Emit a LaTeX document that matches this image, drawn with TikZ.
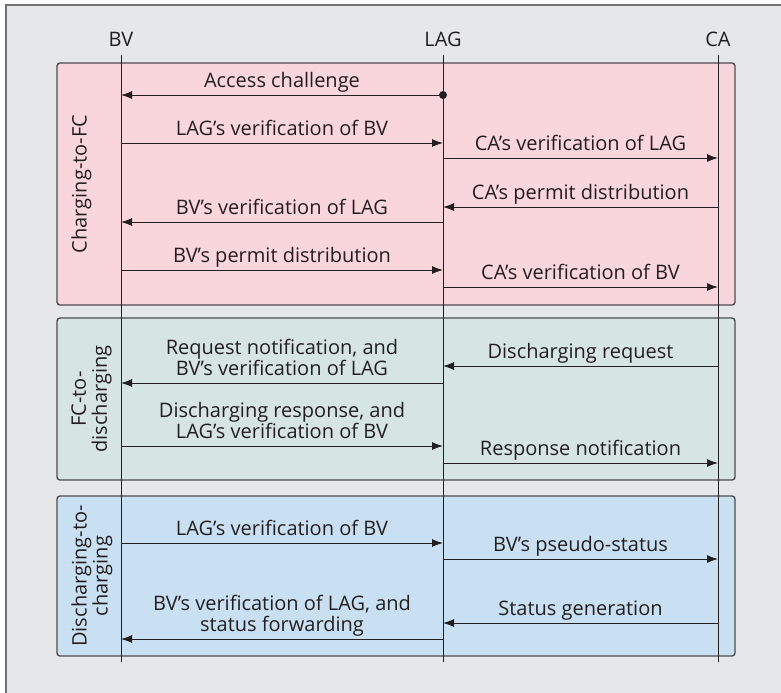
\documentclass[tikz,border=0pt]{standalone}
\usepackage{fontspec}
\setmainfont{Open Sans}
\usetikzlibrary{arrows.meta}
\definecolor{ink}{HTML}{231F20}
\definecolor{panel}{HTML}{E6E7E8}
\definecolor{rim}{HTML}{4D4D4F}
\definecolor{chargefc}{HTML}{F9D5DC}
\definecolor{fcdis}{HTML}{D6E5E2}
\definecolor{discharge}{HTML}{C9E0F3}
\begin{document}
\begin{tikzpicture}[x=0.5pt,y=-0.5pt,
  every node/.style={font=\fontsize{10}{10.5}\selectfont, text=ink},
  msg/.style={draw=ink, line width=0.5pt, -{Latex[length=5.5pt,width=4pt]}},
  phase/.style={draw=rim, line width=0.7pt, rounded corners=1.5pt},
  phasetxt/.style={rotate=90, anchor=north, align=center, inner sep=0pt},
  msgtxt/.style={above=3.4pt, align=center, inner sep=0pt, text depth=0pt}]
\useasboundingbox (0,0) rectangle (781,692);
\fill[panel] (6,5) rectangle (800,710);
\draw[draw=rim!80, line width=1pt] (800,5) -- (6,5) -- (6,710);
\draw[phase, fill=chargefc] (57,63) rectangle (735,305);
\draw[phase, fill=fcdis] (57,318) rectangle (735,480);
\draw[phase, fill=discharge] (57,496) rectangle (735,656);
\node[phasetxt] at (71,184) {Charging-to-FC};
\node[phasetxt] at (71,399) {FC-to-\\discharging};
\node[phasetxt] at (71,576) {Discharging-to-\\charging};
\node (bv) at (121,39) {BV};
\node (lag) at (443,39) {LAG};
\node (ca) at (718,39) {CA};
\coordinate (top) at (0,55);
\coordinate (bottom) at (0,662);
\foreach \n in {bv,lag,ca}
\draw[draw=ink, line width=0.5pt] (\n |- top) -- (\n |- bottom);
\foreach \y/\a/\b/\t in {
 95/lag/bv/{Access challenge},
 143/bv/lag/{LAG's verification of BV},
 158/lag/ca/{CA's verification of LAG},
 207/ca/lag/{CA's permit distribution},
 222/lag/bv/{BV's verification of LAG},
 270/bv/lag/{BV's permit distribution},
 287/lag/ca/{CA's verification of BV},
 366/ca/lag/{Discharging request},
 383/lag/bv/{Request notification, and\\BV's verification of LAG},
 446/bv/lag/{Discharging response, and\\LAG's verification of BV},
 463/lag/ca/{Response notification},
 543/bv/lag/{LAG's verification of BV},
 559/lag/ca/{BV's pseudo-status},
 623/ca/lag/{Status generation},
 639/lag/bv/{BV's verification of LAG, and\\status forwarding}}
\draw[msg] (\a |- 0,\y) -- node[msgtxt] {\t} (\b |- 0,\y);
\fill[ink] (lag |- 0,95) circle (2pt);
\end{tikzpicture}
\end{document}
